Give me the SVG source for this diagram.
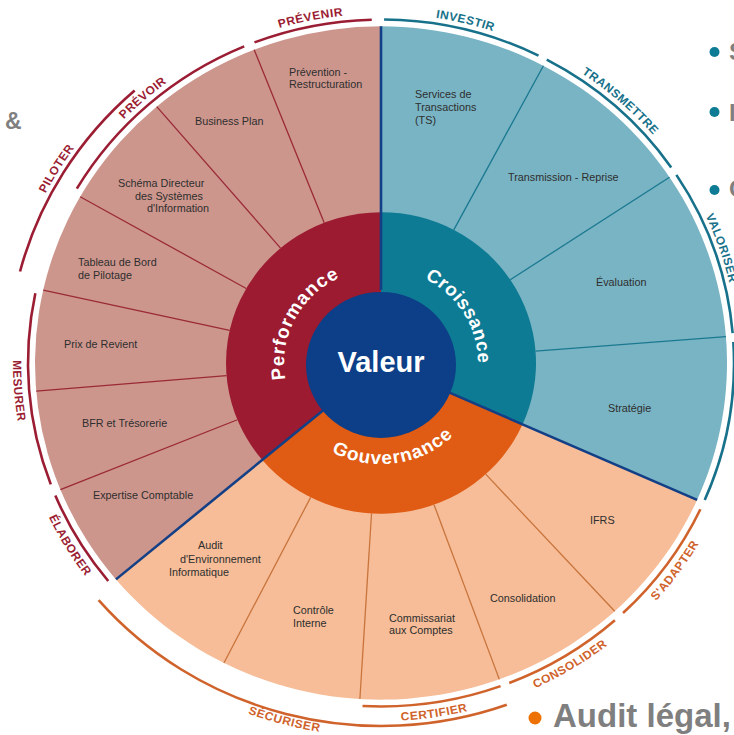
<svg xmlns="http://www.w3.org/2000/svg" width="734" height="735" viewBox="0 0 734 735">
<style>
.wl{font-family:"Liberation Sans",Arial,sans-serif;font-size:10.8px;fill:#2e2e2e}
.ol{font-family:"Liberation Sans",Arial,sans-serif;font-size:12px;font-weight:bold;letter-spacing:0.5px}
.rl{font-family:"Liberation Sans",Arial,sans-serif;font-size:19px;font-weight:bold;fill:#ffffff}
.gt{font-family:"Liberation Sans",Arial,sans-serif;font-weight:bold;fill:#7f7f7f}
.sr{stroke:#9a2a36;stroke-width:1.3;fill:none}
.st{stroke:#1a7890;stroke-width:1.3;fill:none}
.so{stroke:#c8743c;stroke-width:1.3;fill:none}
.nv{stroke:#123f86;stroke-width:2.6;fill:none}
.lr{stroke:#9b1d33;stroke-width:2.6;fill:none}
.lt{stroke:#17718a;stroke-width:2.6;fill:none}
.lo{stroke:#d0632b;stroke-width:2.6;fill:none}
.cr{fill:#9b1d33}
.ct{fill:#17718a}
.co{fill:#d0632b}
</style>
<defs>
<path id="tp-prevenir" d="M-128.65 -335.16 A359 359 0 0 1 -9.40 -358.88"/>
<path id="tp-investir" d="M3.13 -358.99 A359 359 0 0 1 160.19 -321.28"/>
<path id="tp-transmettre" d="M168.54 -316.98 A359 359 0 0 1 295.15 -204.37"/>
<path id="tp-valoriser" d="M299.56 -196.02 A358 358 0 0 1 356.64 -31.20"/>
<path id="tp-prevoir" d="M-309.33 -182.21 A359 359 0 0 1 -139.12 -330.95"/>
<path id="tp-piloter" d="M-365.80 -95.28 A378 378 0 0 1 -249.65 -283.83"/>
<path id="tp-sadapter" d="M252.30 267.89 A368 368 0 0 0 332.98 156.69"/>
<path id="tp-consolider" d="M133.68 342.86 A368 368 0 0 0 243.84 275.62"/>
<path id="tp-certifier" d="M-19.26 367.50 A368 368 0 0 0 124.66 346.24"/>
<path id="tp-elaborer" d="M-339.50 142.01 A368 368 0 0 0 -284.37 233.57"/>
<path id="tp-mesurer" d="M-360.35 -74.63 A368 368 0 0 0 -344.24 130.08"/>
<path id="tp-securiser" d="M-290.69 250.91 A384 384 0 0 0 129.45 361.52"/>
<path id="tp-perf" d="M-84.00 48.5 A97 97 0 0 1 -8.45 -96.63"/>
<path id="tp-croiss" d="M1.69 -96.99 A97 97 0 0 1 87.18 42.52"/>
<path id="tp-gouv" d="M-79.67 66.85 A104 104 0 0 0 95.01 42.30"/>
</defs>
<rect width="734" height="735" fill="#ffffff"/>
<g id="wheel" transform="translate(381 363) scale(1 0.973)">
  <g id="outer-sectors">
    <path id="sector-performance" d="M0 0 L-265.04 222.41 A346 346 0 0 1 0 -346 Z" fill="#cd968d"/>
    <path id="sector-croissance" d="M0 0 L0 -346 A346 346 0 0 1 316.08 140.73 Z" fill="#79b4c4"/>
    <path id="sector-gouvernance" d="M0 0 L316.08 140.73 A346 346 0 0 1 -265.04 222.41 Z" fill="#f6bd98"/>
  </g>
  <g id="connectors">
    <g id="sub-dividers">
      <line class="sr" x1="-143.61" y1="58.31" x2="-320.57" y2="130.17"/>
      <line class="sr" x1="-154.46" y1="12.97" x2="-344.79" y2="28.95"/>
      <line class="sr" x1="-151.33" y1="-33.55" x2="-337.80" y2="-74.89"/>
      <line class="sr" x1="-134.77" y1="-76.56" x2="-300.84" y2="-170.90"/>
      <line class="sr" x1="-100.46" y1="-118.04" x2="-224.25" y2="-263.49"/>
      <line class="sr" x1="-56.81" y1="-144.22" x2="-126.81" y2="-321.93"/>
      <line class="st" x1="72.77" y1="-136.86" x2="162.44" y2="-305.50"/>
      <line class="st" x1="129.25" y1="-85.55" x2="288.53" y2="-190.97"/>
      <line class="st" x1="154.52" y1="-12.16" x2="344.93" y2="-27.15"/>
      <line class="so" x1="104.72" y1="114.28" x2="233.75" y2="255.10"/>
      <line class="so" x1="53.01" y1="145.65" x2="118.34" y2="325.13"/>
      <line class="so" x1="-9.46" y1="154.71" x2="-21.12" y2="345.35"/>
      <line class="so" x1="-70.37" y1="138.11" x2="-157.08" y2="308.29"/>
    </g>
  </g>
  <g id="node-performance">
    <path d="M0 0 L-118.73 99.63 A155 155 0 0 1 0 -155 Z" fill="#9c1b31"/>
    <text class="rl" letter-spacing="1"><textPath href="#tp-perf" startOffset="50%" text-anchor="middle">Performance</textPath></text>
  </g>
  <g id="node-croissance">
    <path d="M0 0 L0 -155 A155 155 0 0 1 141.60 63.04 Z" fill="#0e7b94"/>
    <text class="rl" letter-spacing="0.5"><textPath href="#tp-croiss" startOffset="50%" text-anchor="middle">Croissance</textPath></text>
  </g>
  <g id="node-gouvernance">
    <path d="M0 0 L141.60 63.04 A155 155 0 0 1 -118.73 99.63 Z" fill="#e05b13"/>
    <text class="rl" letter-spacing="1"><textPath href="#tp-gouv" startOffset="50%" text-anchor="middle">Gouvernance</textPath></text>
  </g>
  <g id="main-dividers">
    <line class="nv" x1="-57.45" y1="48.21" x2="-265.04" y2="222.41"/>
    <line class="nv" x1="0" y1="-75" x2="0" y2="-346"/>
    <line class="nv" x1="68.52" y1="30.51" x2="316.08" y2="140.73"/>
  </g>
  <g id="node-valeur">
    <circle cx="0" cy="2" r="75" fill="#0c3f87"/>
  </g>
  <g id="label-prevenir"><path class="lr" d="M-126.50 -329.55 A353 353 0 0 1 -9.24 -352.88"/><text class="ol cr"><textPath href="#tp-prevenir" startOffset="50%" text-anchor="middle">PRÉVENIR</textPath></text></g>
  <g id="label-investir"><path class="lt" d="M3.08 -352.99 A353 353 0 0 1 157.51 -315.91"/><text class="ol ct"><textPath href="#tp-investir" startOffset="50%" text-anchor="middle">INVESTIR</textPath></text></g>
  <g id="label-transmettre"><path class="lt" d="M165.72 -311.68 A353 353 0 0 1 290.22 -200.96"/><text class="ol ct"><textPath href="#tp-transmettre" startOffset="50%" text-anchor="middle">TRANSMETTRE</textPath></text></g>
  <g id="label-valoriser"><path class="lt" d="M295.38 -193.29 A353 353 0 0 1 351.66 -30.77"/><text class="ol ct"><textPath href="#tp-valoriser" startOffset="50%" text-anchor="middle">VALORISER</textPath></text></g>
  <g id="label-right"><path class="lt" d="M352.34 -21.55 A353 353 0 0 1 323.72 140.76"/></g>
  <g id="label-sadapter"><path class="lo" d="M319.40 150.30 A353 353 0 0 1 242.02 256.97"/><text class="ol co"><textPath href="#tp-sadapter" startOffset="50%" text-anchor="middle">S'ADAPTER</textPath></text></g>
  <g id="label-consolider"><path class="lo" d="M233.90 264.38 A353 353 0 0 1 128.23 328.89"/><text class="ol co"><textPath href="#tp-consolider" startOffset="50%" text-anchor="middle">CONSOLIDER</textPath></text></g>
  <g id="label-certifier"><path class="lo" d="M119.58 332.13 A353 353 0 0 1 -18.48 352.52"/><text class="ol co"><textPath href="#tp-certifier" startOffset="50%" text-anchor="middle">CERTIFIER</textPath></text></g>
  <g id="label-securiser"><path class="lo" d="M125.74 351.17 A373 373 0 0 1 -282.36 243.73"/><text class="ol co"><textPath href="#tp-securiser" startOffset="50%" text-anchor="middle">SÉCURISER</textPath></text></g>
  <g id="label-elaborer"><path class="lr" d="M-272.78 224.05 A353 353 0 0 1 -325.66 136.23"/><text class="ol cr"><textPath href="#tp-elaborer" startOffset="50%" text-anchor="middle">ÉLABORER</textPath></text></g>
  <g id="label-mesurer"><path class="lr" d="M-330.21 124.77 A353 353 0 0 1 -345.66 -71.58"/><text class="ol cr"><textPath href="#tp-mesurer" startOffset="50%" text-anchor="middle">MESURER</textPath></text></g>
  <g id="label-piloter"><path class="lr" d="M-360.96 -94.02 A373 373 0 0 1 -246.34 -280.08"/><text class="ol cr"><textPath href="#tp-piloter" startOffset="50%" text-anchor="middle">PILOTER</textPath></text></g>
  <g id="label-prevoir"><path class="lr" d="M-304.16 -179.16 A353 353 0 0 1 -136.79 -325.42"/><text class="ol cr"><textPath href="#tp-prevoir" startOffset="50%" text-anchor="middle">PRÉVOIR</textPath></text></g>
</g>
<text id="valeur-text" x="381" y="372" text-anchor="middle" font-family="Liberation Sans, Arial, sans-serif" font-size="29" font-weight="bold" fill="#ffffff">Valeur</text>
<g id="node-prevention"><text class="wl" x="289" y="76">Prévention -</text><text class="wl" x="289" y="88">Restructuration</text></g>
<g id="node-business-plan"><text class="wl" x="195" y="124.5">Business Plan</text></g>
<g id="node-sdsi"><text class="wl" x="118" y="187">Schéma Directeur</text><text class="wl" x="135" y="199.5">des Systèmes</text><text class="wl" x="147" y="212">d'Information</text></g>
<g id="node-tableau"><text class="wl" x="78" y="266">Tableau de Bord</text><text class="wl" x="78" y="279">de Pilotage</text></g>
<g id="node-prix"><text class="wl" x="64" y="347.5">Prix de Revient</text></g>
<g id="node-bfr"><text class="wl" x="82" y="426.5">BFR et Trésorerie</text></g>
<g id="node-expertise"><text class="wl" x="93" y="499">Expertise Comptable</text></g>
<g id="node-ts"><text class="wl" x="415" y="98">Services de</text><text class="wl" x="415" y="111">Transactions</text><text class="wl" x="415" y="123.5">(TS)</text></g>
<g id="node-transmission"><text class="wl" x="508" y="181">Transmission - Reprise</text></g>
<g id="node-evaluation"><text class="wl" x="596" y="286">Évaluation</text></g>
<g id="node-strategie"><text class="wl" x="608" y="412">Stratégie</text></g>
<g id="node-ifrs"><text class="wl" x="590" y="523.5">IFRS</text></g>
<g id="node-consolidation"><text class="wl" x="490" y="602">Consolidation</text></g>
<g id="node-cac"><text class="wl" x="389" y="622">Commissariat</text><text class="wl" x="389" y="633.5">aux Comptes</text></g>
<g id="node-controle"><text class="wl" x="293" y="614">Contrôle</text><text class="wl" x="293" y="627">Interne</text></g>
<g id="node-audit-info"><text class="wl" x="198" y="549">Audit</text><text class="wl" x="180" y="563">d'Environnement</text><text class="wl" x="169" y="576">Informatique</text></g>
<g id="side-text">
  <text class="gt" x="5" y="129" font-size="23">&amp;</text>
  <circle cx="714.5" cy="52" r="5" fill="#0e7b94"/>
  <text class="gt" x="729" y="60" font-size="24">S</text>
  <circle cx="714.5" cy="112" r="5" fill="#0e7b94"/>
  <text class="gt" x="729" y="121" font-size="24">I</text>
  <circle cx="714.5" cy="190" r="5" fill="#0e7b94"/>
  <text class="gt" x="729" y="197" font-size="24">C</text>
  <circle cx="535" cy="718" r="6.5" fill="#ee7203"/>
  <text class="gt" x="553" y="727" font-size="33">Audit légal,</text>
</g>
</svg>
